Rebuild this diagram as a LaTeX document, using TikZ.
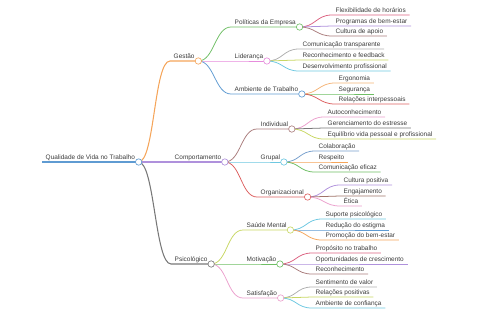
\documentclass[tikz,border=0pt]{standalone}
\usepackage{fontspec}
\setmainfont{Liberation Sans}
\usetikzlibrary{positioning, calc}

\begin{document}
\begin{tikzpicture}[x=0.05cm, y=-0.05cm,
	lbl/.style={anchor=south west, inner xsep=0.18cm, inner ysep=0.4pt,
		text height=1.5ex, text depth=0.45ex,
		font=\fontsize{9.2}{10}\selectfont, text=testo},
	ramo/.style={line width=1.1pt},
	ramogrosso/.style={line width=1.5pt},
	cerchio/.style={fill=white, line width=0.9pt}]
	
	% Definizione dei colori
	\definecolor{testo}{RGB}{60,60,60}
	\definecolor{cBlu}{RGB}{95,155,210}
	\definecolor{cArancio}{RGB}{245,165,90}
	\definecolor{cViola}{RGB}{175,145,220}
	\definecolor{cGrigio}{RGB}{120,120,120}
	\definecolor{cVerde}{RGB}{110,190,100}
	\definecolor{cFucsia}{RGB}{230,140,220}
	\definecolor{cRosso}{RGB}{220,100,130}
	\definecolor{cMalva}{RGB}{170,125,125}
	\definecolor{cGrigioC}{RGB}{175,175,175}
	\definecolor{cGiallo}{RGB}{200,215,100}
	\definecolor{cCiano}{RGB}{110,200,225}
	\definecolor{cPesca}{RGB}{245,180,120}
	\definecolor{cRossoV}{RGB}{220,95,95}
	\definecolor{cRosa}{RGB}{235,160,205}
	\definecolor{cAcciaio}{RGB}{120,160,205}
	\definecolor{cMarrone}{RGB}{160,115,105}
	
	\useasboundingbox (0,0) rectangle (480,320);
	
	% Radice
	\node[lbl] (qvt) at (42,162) {Qualidade de Vida no Trabalho};
	
	% Primo livello
	\node[lbl] (gest) at (170,61) {Gestão};
	\node[lbl] (comp) at (171,162) {Comportamento};
	\node[lbl] (psic) at (171,264) {Psicológico};
	
	% Secondo livello
	\node[lbl] (pol) at (231,27) {Políticas da Empresa};
	\node[lbl] (lid) at (231,61) {Liderança};
	\node[lbl] (amb) at (231,94) {Ambiente de Trabalho};
	\node[lbl] (ind) at (257,129) {Individual};
	\node[lbl] (grup) at (257,162) {Grupal};
	\node[lbl] (org) at (257,197) {Organizacional};
	\node[lbl] (saude) at (243,230) {Saúde Mental};
	\node[lbl] (mot) at (243,264) {Motivação};
	\node[lbl] (sat) at (243,298) {Satisfação};
	
	% Terzo livello
	\node[lbl] (flex) at (332,15) {Flexibilidade de horários};
	\node[lbl] (prog) at (332,26) {Programas de bem-estar};
	\node[lbl] (cult) at (332,36) {Cultura de apoio};
	\node[lbl] (ctra) at (299,49) {Comunicação transparente};
	\node[lbl] (rfeed) at (299,60) {Reconhecimento e feedback};
	\node[lbl] (dprof) at (299,71) {Desenvolvimento profissional};
	\node[lbl] (ergo) at (335,83) {Ergonomia};
	\node[lbl] (seg) at (335,94) {Segurança};
	\node[lbl] (rint) at (335,104) {Relações interpessoais};
	\node[lbl] (auto) at (324,117) {Autoconhecimento};
	\node[lbl] (gere) at (324,128) {Gerenciamento do estresse};
	\node[lbl] (equi) at (324,139) {Equilíbrio vida pessoal e profissional};
	\node[lbl] (colab) at (315,151) {Colaboração};
	\node[lbl] (resp) at (315,162) {Respeito};
	\node[lbl] (cefi) at (315,172) {Comunicação eficaz};
	\node[lbl] (cpos) at (340,185) {Cultura positiva};
	\node[lbl] (enga) at (340,196) {Engajamento};
	\node[lbl] (etica) at (340,206) {Ética};
	\node[lbl] (sup) at (322,219) {Suporte psicológico};
	\node[lbl] (red) at (322,230) {Redução do estigma};
	\node[lbl] (prom) at (322,240) {Promoção do bem-estar};
	\node[lbl] (prop) at (312,253) {Propósito no trabalho};
	\node[lbl] (oport) at (312,264) {Oportunidades de crescimento};
	\node[lbl] (recon) at (312,274) {Reconhecimento};
	\node[lbl] (sent) at (312,287) {Sentimento de valor};
	\node[lbl] (rpos) at (312,297) {Relações positivas};
	\node[lbl] (aconf) at (312,308) {Ambiente de confiança};
	
	% Rami dalla radice
	\draw[ramogrosso, cBlu] (qvt.south west) -- (qvt.south east);
	\draw[ramogrosso, cArancio] (qvt.south east) .. controls +(16,0) and +(-16,0) .. (gest.south west) -- (gest.south east);
	\draw[ramogrosso, cViola] (qvt.south east) .. controls +(16,0) and +(-16,0) .. (comp.south west) -- (comp.south east);
	\draw[ramogrosso, cGrigio] (qvt.south east) .. controls +(16,0) and +(-16,0) .. (psic.south west) -- (psic.south east);
	
	% Gestione
	\draw[ramo, cVerde] (gest.south east) .. controls +(16,0) and +(-16,0) .. (pol.south west) -- (pol.south east);
	\draw[ramo, cFucsia] (gest.south east) .. controls +(16,0) and +(-16,0) .. (lid.south west) -- (lid.south east);
	\draw[ramo, cBlu] (gest.south east) .. controls +(16,0) and +(-16,0) .. (amb.south west) -- (amb.south east);
	\draw[ramo, cRosso] (pol.south east) .. controls +(16,0) and +(-16,0) .. (flex.south west) -- (flex.south east);
	\draw[ramo, cViola] (pol.south east) .. controls +(16,0) and +(-16,0) .. (prog.south west) -- (prog.south east);
	\draw[ramo, cMalva] (pol.south east) .. controls +(16,0) and +(-16,0) .. (cult.south west) -- (cult.south east);
	\draw[ramo, cGrigioC] (lid.south east) .. controls +(16,0) and +(-16,0) .. (ctra.south west) -- (ctra.south east);
	\draw[ramo, cGiallo] (lid.south east) .. controls +(16,0) and +(-16,0) .. (rfeed.south west) -- (rfeed.south east);
	\draw[ramo, cCiano] (lid.south east) .. controls +(16,0) and +(-16,0) .. (dprof.south west) -- (dprof.south east);
	\draw[ramo, cPesca] (amb.south east) .. controls +(16,0) and +(-16,0) .. (ergo.south west) -- (ergo.south east);
	\draw[ramo, cVerde] (amb.south east) .. controls +(16,0) and +(-16,0) .. (seg.south west) -- (seg.south east);
	\draw[ramo, cRossoV] (amb.south east) .. controls +(16,0) and +(-16,0) .. (rint.south west) -- (rint.south east);
	
	% Comportamento
	\draw[ramo, cMalva] (comp.south east) .. controls +(16,0) and +(-16,0) .. (ind.south west) -- (ind.south east);
	\draw[ramo, cCiano] (comp.south east) .. controls +(16,0) and +(-16,0) .. (grup.south west) -- (grup.south east);
	\draw[ramo, cRossoV] (comp.south east) .. controls +(16,0) and +(-16,0) .. (org.south west) -- (org.south east);
	\draw[ramo, cRosa] (ind.south east) .. controls +(16,0) and +(-16,0) .. (auto.south west) -- (auto.south east);
	\draw[ramo, cGrigio] (ind.south east) .. controls +(16,0) and +(-16,0) .. (gere.south west) -- (gere.south east);
	\draw[ramo, cGiallo] (ind.south east) .. controls +(16,0) and +(-16,0) .. (equi.south west) -- (equi.south east);
	\draw[ramo, cAcciaio] (grup.south east) .. controls +(16,0) and +(-16,0) .. (colab.south west) -- (colab.south east);
	\draw[ramo, cArancio] (grup.south east) .. controls +(16,0) and +(-16,0) .. (resp.south west) -- (resp.south east);
	\draw[ramo, cVerde] (grup.south east) .. controls +(16,0) and +(-16,0) .. (cefi.south west) -- (cefi.south east);
	\draw[ramo, cViola] (org.south east) .. controls +(16,0) and +(-16,0) .. (cpos.south west) -- (cpos.south east);
	\draw[ramo, cMarrone] (org.south east) .. controls +(16,0) and +(-16,0) .. (enga.south west) -- (enga.south east);
	\draw[ramo, cRosa] (org.south east) .. controls +(16,0) and +(-16,0) .. (etica.south west) -- (etica.south east);
	
	% Psicologico
	\draw[ramo, cGiallo] (psic.south east) .. controls +(16,0) and +(-16,0) .. (saude.south west) -- (saude.south east);
	\draw[ramo, cVerde] (psic.south east) .. controls +(16,0) and +(-16,0) .. (mot.south west) -- (mot.south east);
	\draw[ramo, cRosa] (psic.south east) .. controls +(16,0) and +(-16,0) .. (sat.south west) -- (sat.south east);
	\draw[ramo, cCiano] (saude.south east) .. controls +(16,0) and +(-16,0) .. (sup.south west) -- (sup.south east);
	\draw[ramo, cBlu] (saude.south east) .. controls +(16,0) and +(-16,0) .. (red.south west) -- (red.south east);
	\draw[ramo, cArancio] (saude.south east) .. controls +(16,0) and +(-16,0) .. (prom.south west) -- (prom.south east);
	\draw[ramo, cRosso] (mot.south east) .. controls +(16,0) and +(-16,0) .. (prop.south west) -- (prop.south east);
	\draw[ramo, cViola] (mot.south east) .. controls +(16,0) and +(-16,0) .. (oport.south west) -- (oport.south east);
	\draw[ramo, cMalva] (mot.south east) .. controls +(16,0) and +(-16,0) .. (recon.south west) -- (recon.south east);
	\draw[ramo, cGrigioC] (sat.south east) .. controls +(16,0) and +(-16,0) .. (sent.south west) -- (sent.south east);
	\draw[ramo, cGiallo] (sat.south east) .. controls +(16,0) and +(-16,0) .. (rpos.south west) -- (rpos.south east);
	\draw[ramo, cCiano] (sat.south east) .. controls +(16,0) and +(-16,0) .. (aconf.south west) -- (aconf.south east);
	
	% Cerchi sui nodi con figli
	\filldraw[cerchio, draw=cBlu] (qvt.south east) circle (0.16cm);
	\filldraw[cerchio, draw=cArancio] (gest.south east) circle (0.16cm);
	\filldraw[cerchio, draw=cViola] (comp.south east) circle (0.16cm);
	\filldraw[cerchio, draw=cGrigio] (psic.south east) circle (0.16cm);
	\filldraw[cerchio, draw=cVerde] (pol.south east) circle (0.16cm);
	\filldraw[cerchio, draw=cFucsia] (lid.south east) circle (0.16cm);
	\filldraw[cerchio, draw=cBlu] (amb.south east) circle (0.16cm);
	\filldraw[cerchio, draw=cMalva] (ind.south east) circle (0.16cm);
	\filldraw[cerchio, draw=cCiano] (grup.south east) circle (0.16cm);
	\filldraw[cerchio, draw=cRossoV] (org.south east) circle (0.16cm);
	\filldraw[cerchio, draw=cGiallo] (saude.south east) circle (0.16cm);
	\filldraw[cerchio, draw=cVerde] (mot.south east) circle (0.16cm);
	\filldraw[cerchio, draw=cRosa] (sat.south east) circle (0.16cm);
	
\end{tikzpicture}
\end{document}
